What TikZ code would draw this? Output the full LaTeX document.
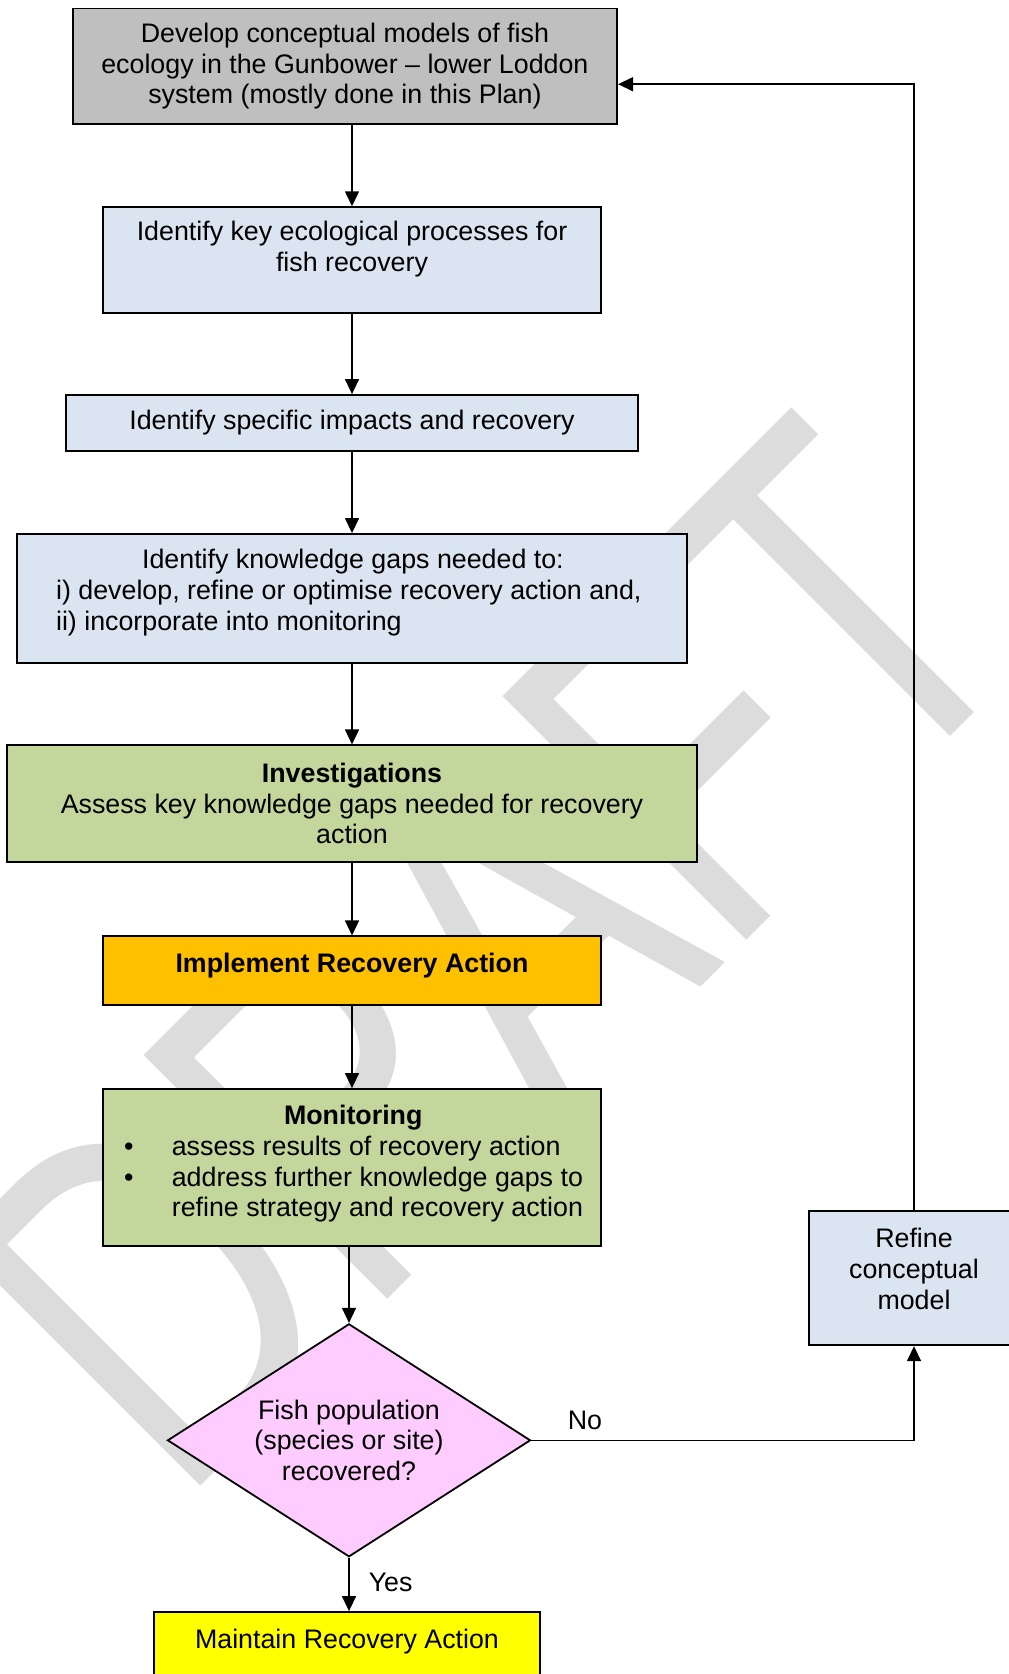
\documentclass[tikz,border=0pt]{standalone}
\usepackage{fontspec}
\setmainfont{Liberation Sans}
\usetikzlibrary{arrows.meta,shapes.geometric}
\definecolor{modelgray}{HTML}{BFBFBF}
\definecolor{stepblue}{HTML}{DBE5F1}
\definecolor{actgreen}{HTML}{C3D69B}
\definecolor{actorange}{HTML}{FFC000}
\definecolor{askpink}{HTML}{FFCCFF}
\definecolor{keepyellow}{HTML}{FFFF00}
\definecolor{markgray}{HTML}{DCDCDC}

\begin{document}
\begin{tikzpicture}[x=1pt,y=-1pt,line width=1.5pt,font=\fontsize{26.8}{30.7}\selectfont,
  box/.style={draw,line width=1.8pt,inner sep=0pt},
  txt/.style={align=center,inner sep=0pt},
  lbl/.style={inner sep=0pt},
  arr/.style={-{Triangle[length=15pt,width=14pt]}}]
\useasboundingbox (0,0) rectangle (1009,1674);
\clip (0,0) rectangle (1009,1674);
% watermark behind everything
\begin{scope}[shift={(488.7,954.6)}]
\node[text=markgray,inner sep=0pt,font=\fontsize{501}{501}\selectfont,rotate=45,xscale=.73] (draft) at (0,0) {DRAFT};
\end{scope}
% boxes
\node[box,txt,fill=modelgray,minimum width=544.5pt,minimum height=115.4pt] (dev) at (344.9,66.2) {Develop conceptual models of fish\\ecology in the Gunbower \textendash{} lower Loddon\\system (mostly done in this Plan)};
\node[box,fill=stepblue,minimum width=498.6pt,minimum height=105.7pt] (keyproc) at (352,260) {};
\node[txt] (keyproclbl) at ([yshift=11pt]keyproc.center) {Identify key ecological processes for\\fish recovery};
\node[box,fill=stepblue,minimum width=572.2pt,minimum height=55.6pt] (impacts) at (352,422.8) {Identify specific impacts and recovery};
\node[box,fill=stepblue,minimum width=670.5pt,minimum height=129.1pt] (gaps) at (352,598.5) {};
\node[lbl,align=left,anchor=west] (gapslbl) at ([xshift=39.5pt,yshift=6pt]gaps.west) {\hspace*{86pt}Identify knowledge gaps needed to:\\i) develop, refine or optimise recovery action and,\\ii) incorporate into monitoring};
\node[box,txt,fill=actgreen,minimum width=689.8pt,minimum height=116.3pt] (invest) at (352,803.5) {\textbf{Investigations}\\Assess key knowledge gaps needed for recovery\\action};
\node[box,fill=actorange,minimum width=498.6pt,minimum height=68.3pt] (implement) at (352,970.5) {};
\node[lbl] (implementlbl) at ([yshift=5pt]implement.center) {\textbf{Implement Recovery Action}};
\node[box,fill=actgreen,minimum width=498.6pt,minimum height=157pt] (monitor) at (352,1167.5) {};
\node[lbl,align=left,anchor=west] (monitorlbl) at ([xshift=21.5pt,yshift=3.5pt]monitor.west) {\hspace*{160pt}\textbf{Monitoring}\\\makebox[47.8pt][l]{\textbullet}assess results of recovery action\\\makebox[47.8pt][l]{\textbullet}address further knowledge gaps to\\\hspace*{47.8pt}refine strategy and recovery action};
\node[box,txt,fill=askpink,shape=diamond,aspect=1.56,minimum width=363pt,minimum height=233pt] (decide) at (349,1440.3) {Fish population\\(species or site)\\recovered?};
\node[box,fill=keepyellow,minimum width=386.5pt,minimum height=88pt] (maintain) at (347,1656) {};
\node[lbl] (maintainlbl) at ([yshift=14pt]maintain.center) {Maintain Recovery Action};
\node[box,fill=stepblue,minimum width=210pt,minimum height=134.5pt] (refine) at (914,1278) {};
\node[txt] (refinelbl) at ([yshift=9pt]refine.center) {Refine\\conceptual\\model};
% connectors
\draw[arr] (dev.south -| keyproc) -- (keyproc);
\draw[arr] (keyproc) -- (impacts);
\draw[arr] (impacts) -- (gaps);
\draw[arr] (gaps) -- (invest);
\draw[arr] (invest) -- (implement);
\draw[arr] (implement) -- (monitor);
\draw[arr] (monitor.south -| decide) -- (decide);
\draw[arr] (decide) -- (decide |- maintain.north) node[lbl,midway,right=19pt,yshift=2pt] (yeslbl) {Yes};
\draw[arr] (decide.east) -| (refine.south) node[lbl,pos=.07,above=10pt] (nolbl) {No};
\draw[arr] (refine.north) |- ([yshift=-18pt]dev.east);
\end{tikzpicture}
\end{document}
